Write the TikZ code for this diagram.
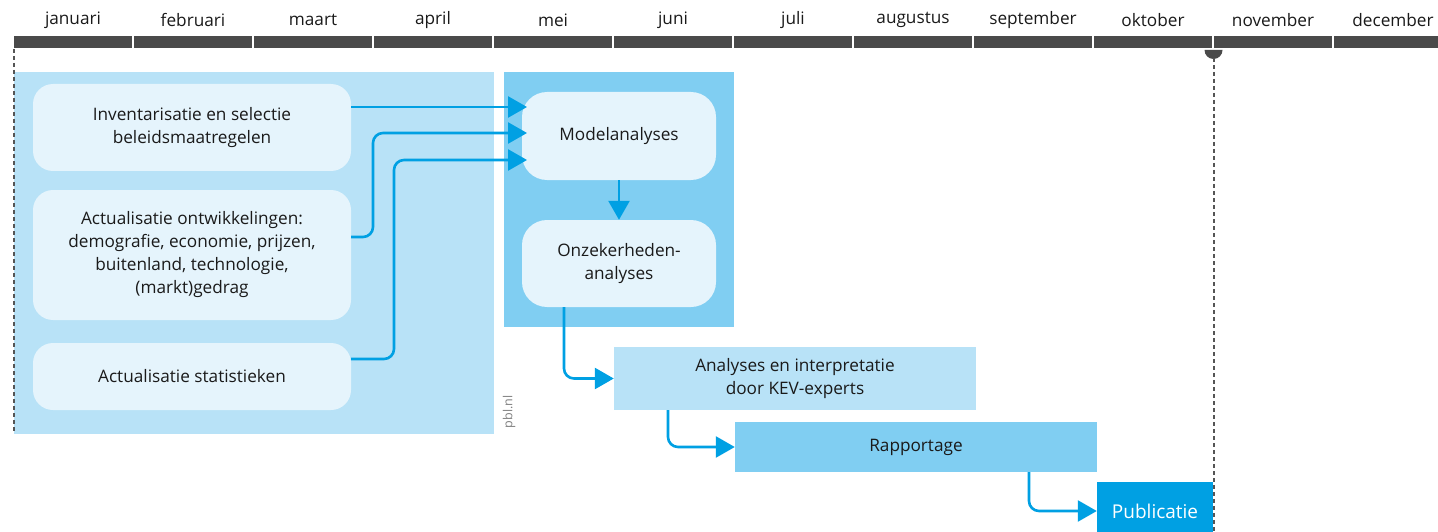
\documentclass[tikz,border=0pt]{standalone}
\usepackage{fontspec}
\setmainfont{Open Sans}
\usetikzlibrary{arrows.meta}
\definecolor{bargray}{HTML}{4A4A4A}
\definecolor{dashgray}{HTML}{555555}
\definecolor{panellight}{HTML}{B8E2F7}
\definecolor{panelmid}{HTML}{80CEF2}
\definecolor{boxlight}{HTML}{E5F4FC}
\definecolor{pblblue}{HTML}{00A0E3}
\definecolor{inkdark}{HTML}{1A1A1A}
\begin{document}
\begin{tikzpicture}[x=1pt,y=-1pt,
  txt/.style={font=\fontsize{17.2}{23}\selectfont, align=center, text=inkdark, inner sep=0pt},
  softbox/.style={txt, fill=boxlight, rounded corners=20pt},
  flatbox/.style={txt},
  flow/.style={draw=pblblue, line width=2.6pt, rounded corners=10pt, -{Triangle[length=19pt,width=21pt]}},
  gridline/.style={draw=dashgray, line width=2pt, dash pattern=on 4pt off 3pt}]
\clip (0,0) rectangle (1438,532);
% months
\foreach \m [count=\i from 0] in {januari,februari,maart,april,mei,juni,juli,augustus,september,oktober,november,december}{
  \fill[bargray] (14+120*\i,36) rectangle (132+120*\i,48);
  \node[txt] (m\i) at (73+120*\i,20) {\m};
}
% panels
\fill[panellight] (14,72) rectangle (494,434);
\fill[panelmid] (504,72) rectangle (734,327);
\node[rotate=90, text=gray, font=\fontsize{12.5}{13}\selectfont, inner sep=0pt] (src) at (509,412) {pbl.nl};
% left boxes
\node[softbox, minimum width=318pt, minimum height=87pt] (inv) at (192,127.5) {Inventarisatie en selectie\\beleidsmaatregelen};
\node[softbox, minimum width=318pt, minimum height=130pt] (ontw) at (192,255) {Actualisatie ontwikkelingen:\\demografie, economie, prijzen,\\buitenland, technologie,\\(markt)gedrag};
\node[softbox, minimum width=318pt, minimum height=67pt] (stat) at (192,376.5) {Actualisatie statistieken};
% model boxes
\node[softbox, rounded corners=25pt, minimum width=194pt, minimum height=88pt] (model) at (619,136) {Modelanalyses};
\node[softbox, rounded corners=25pt, minimum width=194pt, minimum height=87pt] (onzek) at (619,263.5) {Onzekerheden-\\analyses};
% later steps
\node[flatbox, fill=panellight, minimum width=362pt, minimum height=63pt] (expert) at (795,378.5) {Analyses en interpretatie\\door KEV-experts};
\node[flatbox, fill=panelmid, minimum width=362pt, minimum height=50pt] (rapport) at (916,447) {Rapportage};
\node[flatbox, fill=pblblue, text=white, font=\fontsize{19}{23}\selectfont, minimum width=116pt, minimum height=58pt] (pub) at (1155,511) {Publicatie};
% connectors
\coordinate (in1) at (527,107);
\coordinate (in2) at (527,133);
\coordinate (in3) at (527,160);
\draw[flow] (inv.east |- in1) -- (in1);
\draw[flow] (ontw.east |- 0,237) -- (373,237) |- (in2);
\draw[flow] (stat.east |- 0,359) -- (394,359) |- (in3);
\draw[flow] (model.south) -- (onzek.north);
\draw[flow] (onzek.south -| 564,0) |- (expert.west);
\draw[flow] (expert.south -| 668,0) |- (rapport.west);
\draw[flow] (rapport.south -| 1029,0) |- (pub.west);
% time markers
\draw[gridline] (14,49) -- (14,432);
\fill[bargray] (1204.5,50) -- (1222.5,50) arc[start angle=0, end angle=-180, radius=9pt] -- cycle;
\draw[gridline] (1213.5,58) -- (1213.5,532);
\end{tikzpicture}
\end{document}
